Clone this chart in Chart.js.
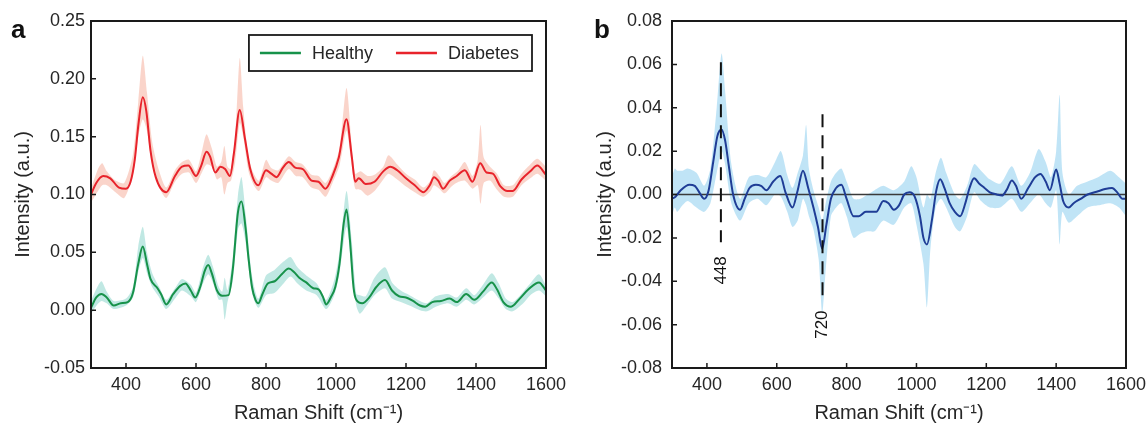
<!DOCTYPE html>
<html><head><meta charset="utf-8">
<script src="https://cdn.jsdelivr.net/npm/chart.js@4.4.1/dist/chart.umd.min.js"></script>
<style>
html,body{margin:0;padding:0;background:#fff;width:1147px;height:423px;overflow:hidden}
#ca{position:absolute;left:0;top:0}
#cb{position:absolute;left:580px;top:0}
</style></head><body>
<canvas id="ca" width="580" height="423"></canvas>
<canvas id="cb" width="567" height="423"></canvas>
<script>
// ---------- DATA ----------
const seriesNames = ['Healthy', 'Diabetes'];
const xTickValues = [400, 600, 800, 1000, 1200, 1400, 1600];
const yTicksA = [-0.05, 0.00, 0.05, 0.10, 0.15, 0.20, 0.25];
const yTicksB = [-0.08, -0.06, -0.04, -0.02, 0.00, 0.02, 0.04, 0.06, 0.08];

// Panel a – Diabetes mean spectrum
const diabX = [300,315,335,355,380,400,413,425,436,448,458,470,485,515,540,560,578,600,615,630,640,655,670,683,697,708,725,740,755,778,800,815,830,848,865,885,905,930,950,970,990,1008,1030,1045,1055,1065,1085,1110,1135,1155,1175,1200,1225,1250,1268,1280,1292,1306,1325,1345,1368,1390,1412,1430,1448,1470,1490,1505,1530,1555,1575,1600];
const diabMean = [0.100,0.110,0.116,0.114,0.106,0.105,0.111,0.130,0.162,0.184,0.172,0.138,0.115,0.102,0.116,0.124,0.125,0.116,0.125,0.137,0.133,0.119,0.124,0.122,0.116,0.135,0.173,0.148,0.122,0.108,0.121,0.118,0.115,0.123,0.128,0.123,0.122,0.112,0.111,0.105,0.116,0.132,0.165,0.133,0.111,0.114,0.109,0.111,0.120,0.124,0.121,0.114,0.108,0.102,0.108,0.115,0.112,0.105,0.112,0.116,0.121,0.111,0.127,0.119,0.118,0.107,0.103,0.103,0.113,0.120,0.125,0.117];
// Panel a – Diabetes spread band
const diabBandX = [300,320,332,345,370,395,420,435,448,460,475,495,515,540,560,580,600,615,630,645,660,672,681,690,700,712,725,735,750,765,780,800,815,835,865,885,905,930,950,970,990,1010,1030,1045,1055,1070,1090,1110,1135,1150,1175,1200,1225,1250,1270,1280,1295,1310,1330,1350,1368,1390,1405,1413,1422,1440,1460,1480,1505,1530,1555,1575,1600];
const diabLo = [0.093,0.103,0.108,0.108,0.102,0.097,0.118,0.150,0.165,0.155,0.125,0.106,0.097,0.111,0.118,0.119,0.110,0.118,0.126,0.124,0.113,0.115,0.100,0.110,0.112,0.128,0.162,0.150,0.120,0.108,0.103,0.115,0.112,0.110,0.122,0.116,0.115,0.106,0.104,0.098,0.110,0.125,0.155,0.125,0.105,0.104,0.099,0.103,0.113,0.118,0.113,0.107,0.102,0.098,0.103,0.108,0.105,0.101,0.107,0.111,0.112,0.105,0.108,0.092,0.110,0.112,0.104,0.098,0.098,0.108,0.114,0.118,0.112];
const diabHi = [0.105,0.122,0.127,0.120,0.112,0.110,0.135,0.180,0.220,0.188,0.145,0.120,0.106,0.121,0.128,0.130,0.120,0.135,0.152,0.140,0.124,0.128,0.142,0.124,0.122,0.150,0.218,0.175,0.132,0.118,0.112,0.130,0.123,0.121,0.133,0.128,0.126,0.117,0.116,0.110,0.121,0.140,0.192,0.142,0.118,0.120,0.116,0.117,0.124,0.134,0.126,0.118,0.113,0.106,0.112,0.121,0.116,0.110,0.116,0.121,0.128,0.116,0.130,0.160,0.132,0.124,0.118,0.108,0.108,0.118,0.126,0.131,0.124];

// Panel a – Healthy mean spectrum
const healthX = [300,315,330,345,365,385,405,420,435,448,460,470,490,500,515,535,555,570,585,598,612,625,635,645,660,675,693,705,720,730,742,750,760,770,778,790,805,825,845,865,880,895,915,935,950,962,972,985,998,1010,1022,1030,1040,1050,1058,1075,1095,1115,1140,1160,1180,1200,1220,1240,1255,1275,1300,1325,1345,1372,1395,1420,1445,1460,1478,1500,1525,1550,1580,1600];
const healthMean = [0.002,0.011,0.014,0.011,0.004,0.006,0.007,0.015,0.040,0.055,0.040,0.027,0.019,0.014,0.005,0.014,0.021,0.023,0.017,0.011,0.020,0.034,0.039,0.032,0.017,0.0125,0.013,0.035,0.085,0.094,0.070,0.045,0.020,0.009,0.006,0.014,0.023,0.025,0.031,0.036,0.033,0.028,0.024,0.019,0.018,0.012,0.005,0.011,0.020,0.040,0.075,0.087,0.060,0.020,0.009,0.006,0.011,0.020,0.026,0.017,0.012,0.011,0.008,0.004,0.003,0.007,0.008,0.010,0.007,0.014,0.009,0.016,0.024,0.018,0.007,0.003,0.010,0.018,0.024,0.017];
// Panel a – Healthy spread band
const healthBandX = [300,318,330,345,365,400,420,435,448,460,475,495,515,540,560,585,600,620,635,648,665,675,682,690,705,720,730,742,760,778,800,825,850,870,890,915,945,972,995,1010,1030,1045,1058,1068,1085,1110,1140,1160,1185,1210,1240,1260,1285,1320,1345,1372,1395,1420,1445,1465,1485,1505,1535,1555,1580,1600];
const healthLo = [-0.003,0.005,0.008,0.006,0.001,0.004,0.011,0.033,0.045,0.032,0.020,0.011,0.001,0.010,0.017,0.012,0.007,0.023,0.031,0.024,0.009,0.009,-0.008,0.007,0.025,0.070,0.075,0.058,0.015,0.002,0.013,0.015,0.023,0.029,0.023,0.017,0.013,0.001,0.013,0.032,0.072,0.035,0.004,-0.003,0.003,0.013,0.019,0.010,0.007,0.004,0.000,-0.001,0.003,0.006,0.003,0.009,0.005,0.011,0.017,0.010,0.001,-0.001,0.006,0.013,0.017,0.012];
const healthHi = [0.008,0.020,0.025,0.016,0.008,0.010,0.020,0.055,0.072,0.050,0.032,0.020,0.009,0.019,0.027,0.022,0.015,0.037,0.048,0.038,0.020,0.016,0.028,0.017,0.045,0.100,0.115,0.083,0.030,0.010,0.030,0.035,0.042,0.046,0.037,0.030,0.023,0.009,0.026,0.050,0.103,0.060,0.014,0.013,0.012,0.028,0.037,0.024,0.017,0.013,0.008,0.006,0.012,0.014,0.011,0.019,0.013,0.022,0.032,0.023,0.010,0.007,0.016,0.023,0.031,0.021];

// Panel b – difference spectrum (Diabetes − Healthy)
const diffX = [300,310,325,350,365,380,392,405,418,430,442,452,462,475,495,508,522,540,555,570,590,610,625,645,660,675,690,705,718,730,742,755,770,785,800,820,835,855,870,885,905,920,935,950,965,980,995,1010,1020,1030,1045,1057,1068,1080,1095,1110,1125,1140,1152,1165,1180,1195,1210,1230,1245,1258,1273,1285,1300,1320,1340,1355,1370,1382,1400,1410,1420,1436,1450,1470,1490,1520,1540,1560,1575,1590,1600];
const diffMean = [-0.002,-0.001,0.002,0.0045,0.004,0.0005,-0.002,0.002,0.015,0.027,0.030,0.025,0.014,0.000,-0.007,-0.002,0.003,0.0045,0.004,0.002,0.006,0.0085,0.001,-0.006,0.002,0.011,0.003,-0.006,-0.015,-0.025,-0.014,-0.002,0.003,0.0045,-0.002,-0.010,-0.010,-0.008,-0.008,-0.008,-0.003,-0.004,-0.007,-0.005,0.000,0.001,-0.001,-0.010,-0.020,-0.023,-0.011,0.002,0.007,0.003,-0.004,-0.008,-0.010,-0.004,0.003,0.0075,0.005,0.003,0.001,0.000,-0.0005,0.002,0.0065,0.004,-0.002,0.003,0.008,0.0095,0.006,0.002,0.0115,0.005,-0.003,-0.006,-0.004,-0.002,0.000,0.0015,0.0025,0.003,0.001,-0.002,-0.002];
const diffBandX = [300,308,315,330,345,370,392,410,428,442,452,470,495,520,545,570,595,612,630,645,660,675,684,692,705,720,730,740,755,770,785,800,820,840,860,880,905,935,965,985,1000,1020,1030,1040,1055,1070,1085,1110,1125,1145,1165,1185,1210,1240,1273,1300,1325,1350,1370,1385,1400,1410,1418,1436,1460,1490,1520,1555,1580,1600];
const diffLo = [-0.010,-0.006,-0.008,-0.005,-0.003,-0.006,-0.008,-0.004,0.010,0.020,0.014,-0.004,-0.012,-0.004,-0.002,-0.005,0.000,-0.001,-0.008,-0.015,-0.012,-0.002,-0.005,-0.010,-0.016,-0.030,-0.055,-0.035,-0.010,-0.006,-0.004,-0.010,-0.020,-0.018,-0.017,-0.017,-0.012,-0.014,-0.006,-0.004,-0.014,-0.032,-0.052,-0.025,-0.006,-0.002,-0.006,-0.015,-0.017,-0.010,0.001,-0.003,-0.006,-0.006,-0.002,-0.008,-0.004,0.000,-0.004,-0.006,0.002,-0.023,-0.008,-0.013,-0.010,-0.006,-0.005,-0.004,-0.006,-0.010];
const diffHi = [0.008,0.012,0.011,0.011,0.012,0.010,0.004,0.012,0.040,0.065,0.048,0.014,-0.002,0.008,0.009,0.008,0.015,0.020,0.009,0.003,0.010,0.018,0.032,0.012,0.002,-0.006,-0.012,-0.004,0.006,0.010,0.012,0.006,-0.002,-0.002,0.000,0.002,0.004,0.002,0.006,0.013,0.008,-0.006,0.000,-0.002,0.010,0.017,0.010,0.000,-0.002,0.004,0.014,0.011,0.007,0.005,0.013,0.004,0.010,0.021,0.015,0.008,0.020,0.046,0.010,0.000,0.004,0.006,0.008,0.011,0.008,0.005];
const zeroLineX = [300, 1600];
const zeroLineY = [0, 0];

// Panel b – marked peaks (dashed guides)
const markerX = [440, 731];
const markerTop = [0.061, 0.037];
const markerBottom = [-0.022, -0.047];
const markerText = ['448', '720'];
const markerTextY = [-0.035, -0.060];

// ---------- STYLE ----------
const FONT = "'Liberation Sans', Arial, sans-serif";
const TXT = '#262626';
const RED = '#e8232b', RED_BAND = 'rgba(246,170,150,0.5)';
const GREEN = '#17924a', GREEN_BAND = 'rgba(130,210,200,0.5)';
const BLUE = '#1f3d96', BLUE_BAND = 'rgba(140,205,238,0.55)';

function pts(xs, ys) { return xs.map((x, i) => ({ x: x, y: ys[i] })); }
function fmt2(v) { return Math.abs(v) < 1e-9 ? '0.00' : v.toFixed(2); }

function lineDs(label, xs, ys, color, order) {
  return { label, data: pts(xs, ys), borderColor: color, borderWidth: 2, pointRadius: 0,
           cubicInterpolationMode: 'monotone', fill: false, order };
}
function bandDs(label, xs, ys, order, fill, bg) {
  return { label, data: pts(xs, ys), borderColor: 'transparent', borderWidth: 0, pointRadius: 0,
           tension: 0.25, fill: fill, backgroundColor: bg || 'transparent', order };
}

function scalesFor(yMin, yMax, yTicks, yWidth, yTitlePad, yLabelPad) {
  return {
    x: {
      type: 'linear', min: 300, max: 1600,
      afterBuildTicks(s) { s.ticks = xTickValues.map(v => ({ value: v })); },
      afterFit(s) { s.height = 55; s.paddingLeft = 0; s.paddingRight = 0; },
      grid: { display: false, drawTicks: false }, border: { display: false },
      ticks: { padding: 6, autoSkip: false, maxRotation: 0, color: TXT,
               font: { family: FONT, size: 18 }, callback: v => String(v) },
      title: { display: true, text: 'Raman Shift (cm⁻¹)', color: TXT,
               font: { family: FONT, size: 20, lineHeight: 1 }, padding: { top: 0, bottom: 0 } }
    },
    y: {
      type: 'linear', min: yMin, max: yMax,
      afterBuildTicks(s) { s.ticks = yTicks.map(v => ({ value: v })); },
      afterFit(s) { s.width = yWidth; s.paddingTop = 0; s.paddingBottom = 0; },
      grid: { display: false, drawTicks: false }, border: { display: false },
      ticks: { padding: yLabelPad, autoSkip: false, color: TXT, font: { family: FONT, size: 18 }, callback: v => fmt2(v) },
      title: { display: true, text: 'Intensity (a.u.)', color: TXT,
               font: { family: FONT, size: 20, lineHeight: 1 }, padding: { top: yTitlePad, bottom: 0 } }
    }
  };
}

function decor(letter, letterX, extra) {
  return {
    id: 'decor',
    afterDraw(chart) {
      const { ctx, chartArea: a, scales } = chart;
      const xs = scales.x, ys = scales.y;
      ctx.save();
      ctx.strokeStyle = '#1a1a1a';
      ctx.lineWidth = 1.5;
      ctx.beginPath();
      xs.ticks.forEach(t => {
        const px = xs.getPixelForValue(t.value);
        ctx.moveTo(px, a.bottom); ctx.lineTo(px, a.bottom - 5);
      });
      ys.ticks.forEach(t => {
        const py = ys.getPixelForValue(t.value);
        ctx.moveTo(a.left, py); ctx.lineTo(a.left + 5, py);
      });
      ctx.stroke();
      ctx.lineWidth = 2;
      ctx.strokeRect(a.left, a.top, a.right - a.left, a.bottom - a.top);
      ctx.fillStyle = '#111';
      ctx.font = 'bold 26px ' + FONT;
      ctx.textAlign = 'left'; ctx.textBaseline = 'alphabetic';
      ctx.fillText(letter, letterX, 38);
      if (extra) extra(chart, ctx, a, xs, ys);
      ctx.restore();
    }
  };
}

// ---------- PANEL A ----------
const legendItems = [{ label: seriesNames[0], color: GREEN }, { label: seriesNames[1], color: RED }];
function drawLegend(chart, ctx, a) {
  ctx.font = '18px ' + FONT;
  const padL = 11, lineLen = 41, gapT = 11, gapItem = 23, padR = 13, h = 36;
  let w = padL + padR;
  legendItems.forEach((it, i) => { w += lineLen + gapT + ctx.measureText(it.label).width + (i < legendItems.length - 1 ? gapItem : 0); });
  const right = a.right - 14, top = a.top + 14, left = right - w;
  ctx.fillStyle = '#fff';
  ctx.fillRect(left, top, w, h);
  ctx.strokeStyle = '#1a1a1a'; ctx.lineWidth = 1.8;
  ctx.strokeRect(left, top, w, h);
  let cx = left + padL; const cy = top + h / 2;
  legendItems.forEach(it => {
    ctx.strokeStyle = it.color; ctx.lineWidth = 2.5;
    ctx.beginPath(); ctx.moveTo(cx, cy); ctx.lineTo(cx + lineLen, cy); ctx.stroke();
    cx += lineLen + gapT;
    ctx.fillStyle = TXT; ctx.textAlign = 'left'; ctx.textBaseline = 'middle';
    ctx.fillText(it.label, cx, cy + 1);
    cx += ctx.measureText(it.label).width + gapItem;
  });
}

new Chart(document.getElementById('ca'), {
  type: 'line',
  data: {
    datasets: [
      bandDs('_dlo', diabBandX, diabLo, 3, false),
      bandDs('_dhi', diabBandX, diabHi, 3, 0, RED_BAND),
      bandDs('_hlo', healthBandX, healthLo, 2, false),
      bandDs('_hhi', healthBandX, healthHi, 2, 2, GREEN_BAND),
      lineDs(seriesNames[1], diabX, diabMean, RED, 0),
      lineDs(seriesNames[0], healthX, healthMean, GREEN, 0)
    ]
  },
  options: {
    responsive: false, animation: false, devicePixelRatio: 1,
    layout: { padding: { left: 0, top: 21, right: 34, bottom: 0 } },
    plugins: { legend: { display: false }, tooltip: { enabled: false } },
    scales: scalesFor(-0.05, 0.25, yTicksA, 91, 13, 6)
  },
  plugins: [decor('a', 11, drawLegend)]
});

// ---------- PANEL B ----------
function drawMarkers(chart, ctx, a, xs, ys) {
  ctx.fillStyle = '#111';
  ctx.font = '17px ' + FONT;
  ctx.textAlign = 'center'; ctx.textBaseline = 'middle';
  markerText.forEach((t, i) => {
    ctx.save();
    ctx.translate(xs.getPixelForValue(markerX[i]), ys.getPixelForValue(markerTextY[i]));
    ctx.rotate(-Math.PI / 2);
    ctx.fillText(t, 0, 0);
    ctx.restore();
  });
}

const markerDs = markerX.map((mx, i) => ({
  label: '_m' + i, data: pts([mx, mx], [markerTop[i], markerBottom[i]]),
  borderColor: '#111', borderWidth: 2, borderDash: [13, 8], pointRadius: 0, fill: false, order: -1
}));

new Chart(document.getElementById('cb'), {
  type: 'line',
  data: {
    datasets: [
      bandDs('_blo', diffBandX, diffLo, 3, false),
      bandDs('_bhi', diffBandX, diffHi, 3, 0, BLUE_BAND),
      { label: '_zero', data: pts(zeroLineX, zeroLineY), borderColor: '#3a3a3a', borderWidth: 1.5, pointRadius: 0, fill: false, order: 1 },
      lineDs('Difference', diffX, diffMean, BLUE, 0),
      ...markerDs
    ]
  },
  options: {
    responsive: false, animation: false, devicePixelRatio: 1,
    layout: { padding: { left: 0, top: 21, right: 21, bottom: 0 } },
    plugins: { legend: { display: false }, tooltip: { enabled: false } },
    scales: scalesFor(-0.08, 0.08, yTicksB, 92, 15, 10)
  },
  plugins: [decor('b', 14, drawMarkers)]
});
</script>
</body></html>
